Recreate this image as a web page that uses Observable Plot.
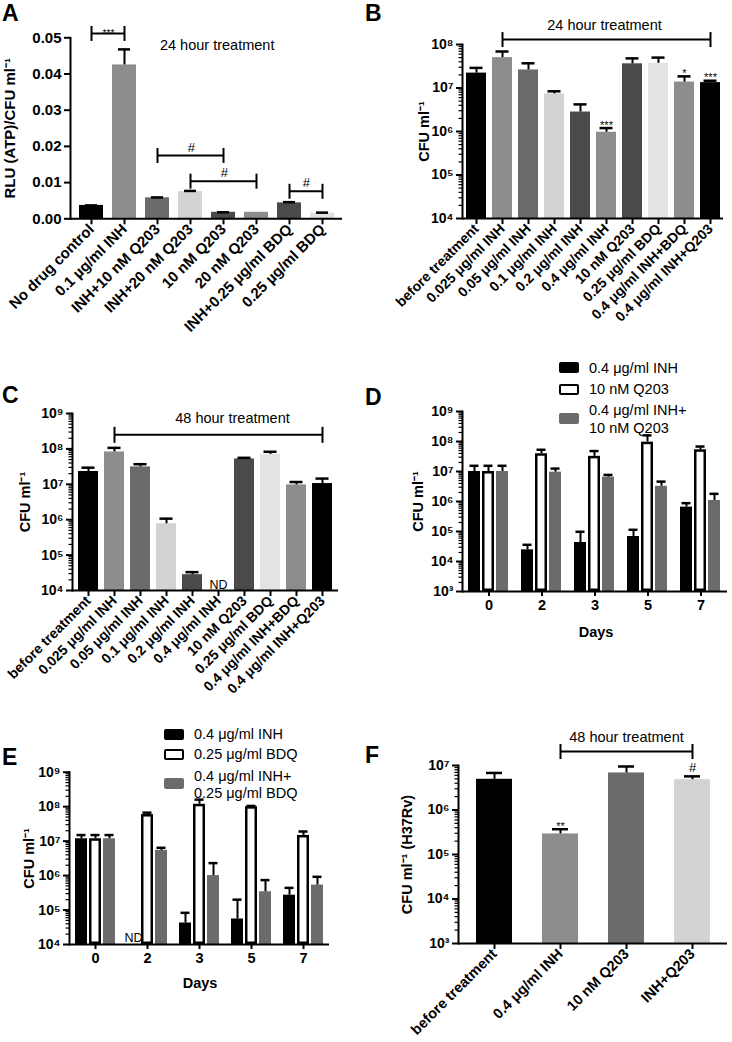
<!DOCTYPE html>
<html>
<head>
<meta charset="utf-8">
<script src="https://cdn.jsdelivr.net/npm/d3@7"></script>
<script src="https://cdn.jsdelivr.net/npm/@observablehq/plot@0.6"></script>
<style>
html,body{margin:0;padding:0;background:#fff;}
#fig{position:relative;width:732px;height:1042px;overflow:hidden;font-family:"Liberation Sans",Arial,Helvetica,sans-serif;color:#000;background:#fff;}
.panel{position:absolute;}
.panel svg{overflow:visible;display:block;}
.abs{position:absolute;white-space:nowrap;}
.letter{font-weight:bold;font-size:23px;line-height:26px;}
.lg{font-size:14.5px;line-height:18px;}
.sw{position:absolute;width:20px;height:11px;border-radius:2px;box-sizing:border-box;}
.xl{font-weight:bold;font-size:14.5px;line-height:18px;transform:translateX(-50%);}
</style>
</head>
<body>
<div id="fig"></div>
<script>
// ---------------- DATA ----------------
// Panel A
const aLabels = ["No drug control", "0.1 µg/ml INH", "INH+10 nM Q203", "INH+20 nM Q203", "10 nM Q203", "20 nM Q203", "INH+0.25 µg/ml BDQ", "0.25 µg/ml BDQ"];
const aValues = [0.0037, 0.0425, 0.0058, 0.0075, 0.0018, 0.0018, 0.0044, 0.0016];
const aErrors = [0.0037, 0.0468, 0.0059, 0.0077, 0.0018, null, 0.0046, 0.0017];
const aTicks = [0, 0.01, 0.02, 0.03, 0.04, 0.05];
const aBrackets = [
  {from: aLabels[0], to: aLabels[1], level: 0.0512, text: "***"},
  {from: aLabels[2], to: aLabels[4], level: 0.0175, text: "#"},
  {from: aLabels[3], to: aLabels[5], level: 0.0104, text: "#"},
  {from: aLabels[6], to: aLabels[7], level: 0.0076, text: "#"}
];
// Panel B
const bLabels = ["before treatment", "0.025 μg/ml INH", "0.05 μg/ml INH", "0.1 μg/ml INH", "0.2 μg/ml INH", "0.4 μg/ml INH", "10 nM Q203", "0.25 μg/ml BDQ", "0.4 μg/ml INH+BDQ", "0.4 μg/ml INH+Q203"];
const bValues = [2.2e7, 5.0e7, 2.6e7, 7.3e6, 2.8e6, 9.6e5, 3.6e7, 3.7e7, 1.37e7, 1.33e7];
const bErrors = [2.9e7, 6.9e7, 3.7e7, 8.4e6, 4.2e6, 1.2e6, 4.8e7, 5.0e7, 1.85e7, 1.47e7];
const bStars = [{name: bLabels[5], text: "***"}, {name: bLabels[8], text: "*"}, {name: bLabels[9], text: "***"}];
const bBracket = [{from: bLabels[1], to: bLabels[9], level: 1.3e8}];
// Panel C
const cLabels = bLabels;
const cValues = [2.3e7, 8.2e7, 3.1e7, 7.7e5, 2.8e4, null, 5.2e7, 7.0e7, 9.6e6, 1.05e7];
const cErrors = [2.95e7, 1.07e8, 3.7e7, 1.07e6, 3.3e4, null, 5.6e7, 8.3e7, 1.16e7, 1.45e7];
const cND = [cLabels[5]];
const cBracket = [{from: cLabels[1], to: cLabels[9], level: 2.5e8}];
// Panel D
const dDays = ["0", "2", "3", "5", "7"];
const dSeries = ["0.4 μg/ml INH", "10 nM Q203", "0.4 μg/ml INH+10 nM Q203"];
const dINH = [1.0e7, 2.45e4, 4.3e4, 6.8e4, 6.5e5];
const dINHerr = [1.55e7, 3.6e4, 9.8e4, 1.14e5, 8.8e5];
const dQ203 = [1.0e7, 3.9e7, 3.2e7, 9.5e7, 5.3e7];
const dQ203err = [1.55e7, 5.3e7, 4.8e7, 1.6e8, 6.8e7];
const dCombo = [1.0e7, 9.5e6, 6.5e6, 3.2e6, 1.08e6];
const dComboErr = [1.55e7, 1.25e7, 7.7e6, 4.6e6, 1.8e6];
const dLegend = [["0.4 μg/ml INH"], ["10 nM Q203"], ["0.4 μg/ml INH+", "10 nM Q203"]];
// Panel E
const eDays = ["0", "2", "3", "5", "7"];
const eSeries = ["0.4 μg/ml INH", "0.25 μg/ml BDQ", "0.4 μg/ml INH+0.25 μg/ml BDQ"];
const eINH = [1.17e7, null, 4.2e4, 5.5e4, 2.7e5];
const eINHerr = [1.5e7, null, 8.3e4, 2.0e5, 4.4e5];
const eBDQ = [1.17e7, 5.9e7, 1.17e8, 1.0e8, 1.46e7];
const eBDQerr = [1.5e7, 6.7e7, 1.6e8, 1.05e8, 1.9e7];
const eCombo = [1.17e7, 5.4e6, 1.0e6, 3.4e5, 5.3e5];
const eComboErr = [1.5e7, 6.4e6, 2.3e6, 7.4e5, 9.2e5];
const eLegend = [["0.4 μg/ml INH"], ["0.25 μg/ml BDQ"], ["0.4 μg/ml INH+", "0.25 μg/ml BDQ"]];
// Panel F
const fLabels = ["before treatment", "0.4 μg/ml INH", "10 nM Q203", "INH+Q203"];
const fValues = [4.9e6, 2.9e5, 6.8e6, 4.8e6];
const fErrors = [6.8e6, 3.7e5, 9.5e6, 5.7e6];
const fStars = [{name: fLabels[1], text: "**"}, {name: fLabels[3], text: "#"}];
const fBracket = [{from: fLabels[1], to: fLabels[3], level: 2.06e7}];

// ---------------- STYLE ----------------
const FONT = '"Liberation Sans", Arial, Helvetica, sans-serif';
const shades10 = ["#000000", "#8d8d8d", "#6b6b6b", "#d3d3d3", "#4a4a4a", "#8d8d8d", "#4a4a4a", "#e3e3e3", "#8d8d8d", "#000000"];
const shadesA = ["#000000", "#8d8d8d", "#6b6b6b", "#d3d3d3", "#4a4a4a", "#8d8d8d", "#4a4a4a", "#e3e3e3"];
const shadesF = ["#000000", "#8d8d8d", "#6b6b6b", "#d3d3d3"];
const groupColors = ["#000000", "#ffffff", "#6b6b6b"];

const SUP = "⁰¹²³⁴⁵⁶⁷⁸⁹";
const pow10 = d => "10" + String(Math.round(Math.log10(d))).split("").map(c => SUP[+c]).join("");
const decades = (lo, hi) => d3.range(lo, hi + 1).map(e => 10 ** e);
const minorTicks = (lo, hi) => { const t = []; for (let e = lo; e < hi; e++) for (let m = 2; m <= 9; m++) t.push(m * 10 ** e); return t; };
const vBar = {draw(ctx, size) { const r = Math.sqrt(size / Math.PI); ctx.moveTo(0, -r); ctx.lineTo(0, r); }};

const fig = document.getElementById("fig");
function place(node, left, top) {
  const d = document.createElement("div");
  d.className = "panel"; d.style.left = left + "px"; d.style.top = top + "px";
  d.appendChild(node); fig.appendChild(d);
}
function addText(text, left, top, cls) {
  const d = document.createElement("div");
  d.className = "abs " + cls; d.style.left = left + "px"; d.style.top = top + "px";
  d.textContent = text; fig.appendChild(d);
}
function addLegend(items, swLeft, txtLeft, swCenters, lineCenters) {
  let k = 0;
  items.forEach((lines, i) => {
    const s = document.createElement("div");
    s.className = "sw";
    s.style.left = swLeft + "px"; s.style.top = (swCenters[i] - 5.5) + "px";
    s.style.background = groupColors[i];
    if (i === 1) s.style.border = "2.5px solid #000";
    fig.appendChild(s);
    lines.forEach(t => { addText(t, txtLeft, lineCenters[k++] - 9, "lg"); });
  });
}

function yAxisMarks(o) {
  const m = [];
  if (o.minor) m.push(Plot.axisY({ticks: o.minor, tickSize: 3.5, strokeWidth: 1.2, fill: "none", label: null}));
  m.push(Plot.axisY({ticks: o.ticks, tickSize: 6, strokeWidth: 2, tickFormat: o.format, fontSize: o.yFont, fontWeight: "bold", tickPadding: 3, label: null}));
  m.push(Plot.frame({anchor: "left", stroke: "#000", strokeWidth: 2, facetAnchor: "left"}));
  m.push(Plot.text([o.yLabel], {text: d => d, frameAnchor: "left", rotate: -90, dx: -o.yLabelOffset, textAnchor: "middle", lineAnchor: "top", fontWeight: "bold", fontSize: o.yLabelFont, fill: "#000", facetAnchor: "left"}));
  return m;
}

function barsPanel(o) {
  const rows = o.labels.map((name, i) => ({name, value: o.values[i], err: o.errors[i]}));
  const base = o.yDomain[0];
  const [mt, mr, mb, ml] = o.margin;
  const W = o.width - ml - mr;
  const step = W / (o.labels.length - o.pi + 2 * o.po);
  const idx = name => o.labels.indexOf(name);
  const has = rows.filter(d => d.value != null);
  const er = has.filter(d => d.err != null);
  const marks = [
    Plot.barY(has, {x: "name", y1: () => base, y2: "value", fill: "name"}),
    Plot.ruleX(er, {x: "name", y1: "value", y2: "err", stroke: "#000", strokeWidth: 2}),
    Plot.tickY(er, {x: "name", y: "err", stroke: "#000", strokeWidth: 2.5, insetLeft: o.capInset, insetRight: o.capInset}),
    Plot.ruleY([base], {stroke: "#000", strokeWidth: 2}),
    ...yAxisMarks(o),
    Plot.axisX({tickRotate: -45, tickSize: 6, strokeWidth: 2, fontSize: o.xFont, fontWeight: "bold", tickPadding: 2, label: null})
  ];
  for (const b of o.brackets || []) {
    marks.push(Plot.link([b], {x1: "from", x2: "to", y1: "level", y2: "level", stroke: "#000", strokeWidth: 2}));
    marks.push(Plot.dot([{name: b.from, level: b.level}, {name: b.to, level: b.level}], {x: "name", y: "level", symbol: vBar, r: o.hook, stroke: "#000", strokeWidth: 2, fill: "none"}));
    if (b.text) {
      const star = b.text.startsWith("*");
      marks.push(Plot.text([b], {x: "from", y: "level", text: "text", dx: (idx(b.to) - idx(b.from)) * step / 2, dy: star ? 0 : -8, fontSize: star ? 10 : 13, fill: "#000", lineAnchor: "middle"}));
    }
  }
  for (const s of o.stars || []) {
    const star = s.text.startsWith("*");
    marks.push(Plot.text([s], {x: "name", y: d => rows[idx(d.name)].err, text: "text", dy: star ? -3 : -8.5, fontSize: star ? 11 : 13, fill: "#000", lineAnchor: "middle"}));
  }
  if (o.title) marks.push(Plot.text([o.title], {text: d => d, frameAnchor: "top", dx: o.titleDx, dy: o.titleDy, fontSize: 14.5, fill: "#000", lineAnchor: "middle"}));
  if (o.nd) marks.push(Plot.text(o.nd, {x: d => d, y: () => base, text: () => "ND", dy: -5.5, fontSize: 12.5, fill: "#000", lineAnchor: "middle"}));
  return Plot.plot({
    width: o.width, height: o.height,
    marginTop: mt, marginRight: mr, marginBottom: mb, marginLeft: ml,
    x: {domain: o.labels, paddingInner: o.pi, paddingOuter: o.po},
    y: {type: o.yType, domain: o.yDomain},
    color: {domain: o.labels, range: o.colors},
    style: {fontFamily: FONT, overflow: "visible", background: "transparent", color: "#000"},
    marks
  });
}

function groupedPanel(o) {
  const rows = [];
  o.series.forEach((s, j) => o.days.forEach((day, i) => rows.push({day, series: s, value: o.values[j][i], err: o.errors[j][i]})));
  const base = o.yDomain[0];
  const [mt, mr, mb, ml] = o.margin;
  const has = rows.filter(d => d.value != null);
  const filled = has.filter(d => d.series !== o.series[1]);
  const open = has.filter(d => d.series === o.series[1]);
  const er = has.filter(d => d.err != null);
  const marks = [
    Plot.barY(filled, {fx: "day", x: "series", y1: () => base, y2: "value", fill: "series"}),
    Plot.barY(open, {fx: "day", x: "series", y1: () => base, y2: "value", fill: "#fff", stroke: "#000", strokeWidth: 2.5, inset: 1.25}),
    Plot.ruleX(er, {fx: "day", x: "series", y1: "value", y2: "err", stroke: "#000", strokeWidth: 2}),
    Plot.tickY(er, {fx: "day", x: "series", y: "err", stroke: "#000", strokeWidth: 2.5, insetLeft: 1.5, insetRight: 1.5}),
    Plot.ruleY([base], {stroke: "#000", strokeWidth: 2}),
    ...yAxisMarks(o),
    Plot.axisFx({anchor: "bottom", tickSize: 5, strokeWidth: 2, fontSize: 14.5, fontWeight: "bold", tickPadding: 3, label: null})
  ];
  if (o.nd) marks.push(Plot.text([o.nd], {fx: "day", x: "series", y: () => base, text: () => "ND", dy: -7, fontSize: 12.5, fill: "#000", lineAnchor: "middle"}));
  return Plot.plot({
    width: o.width, height: o.height,
    marginTop: mt, marginRight: mr, marginBottom: mb, marginLeft: ml,
    fx: {domain: o.days, padding: 0},
    x: {domain: o.series, axis: null, paddingInner: o.pi, paddingOuter: o.po},
    y: {type: "log", domain: o.yDomain},
    color: {domain: o.series, range: groupColors},
    style: {fontFamily: FONT, overflow: "visible", background: "transparent", color: "#000"},
    marks
  });
}

// ---------------- PANELS ----------------
place(barsPanel({
  labels: aLabels, values: aValues, errors: aErrors, colors: shadesA,
  width: 366, height: 330, margin: [37.3, 24, 111.7, 70], pi: 0.28, po: 0.15, capInset: 6,
  yType: "linear", yDomain: [0, 0.05], ticks: aTicks, format: d => d.toFixed(2), yFont: 15,
  yLabel: "RLU (ATP)/CFU ml⁻¹", yLabelOffset: 66, yLabelFont: 15, xFont: 15,
  brackets: aBrackets, hook: 7.5, title: "24 hour treatment", titleDx: 10.7, titleDy: 7.7
}), 0, 0);

place(barsPanel({
  labels: bLabels, values: bValues, errors: bErrors, colors: shades10,
  width: 366, height: 330, margin: [44, 9, 112, 96], pi: 0.24, po: 0.075, capInset: 3.5,
  yType: "log", yDomain: [1e4, 1e8], ticks: decades(4, 8), minor: minorTicks(4, 8), format: pow10, yFont: 14,
  yLabel: "CFU ml⁻¹", yLabelOffset: 44, yLabelFont: 14.5, xFont: 14,
  brackets: bBracket, hook: 7.5, stars: bStars, title: "24 hour treatment", titleDx: 11.5, titleDy: -19
}), 366, 0);

place(barsPanel({
  labels: cLabels, values: cValues, errors: cErrors, colors: shades10,
  width: 366, height: 300, margin: [83, 28, 40, 72], pi: 0.24, po: 0.185, capInset: 3.5,
  yType: "log", yDomain: [1e4, 1e9], ticks: decades(4, 9), minor: minorTicks(4, 9), format: pow10, yFont: 14,
  yLabel: "CFU ml⁻¹", yLabelOffset: 53, yLabelFont: 14.5, xFont: 14,
  brackets: cBracket, hook: 8, nd: cND, title: "48 hour treatment", titleDx: 27, titleDy: 5
}), 0, 330);

place(groupedPanel({
  days: dDays, series: dSeries, values: [dINH, dQ203, dCombo], errors: [dINHerr, dQ203err, dComboErr],
  width: 366, height: 300, margin: [81, 3, 39, 94], pi: 0.13, po: 0.36,
  yDomain: [1e3, 1e9], ticks: decades(3, 9), minor: minorTicks(3, 9), format: pow10, yFont: 14,
  yLabel: "CFU ml⁻¹", yLabelOffset: 50, yLabelFont: 14.5
}), 366, 330);

place(groupedPanel({
  days: eDays, series: eSeries, values: [eINH, eBDQ, eCombo], errors: [eINHerr, eBDQerr, eComboErr],
  width: 366, height: 412, margin: [141.7, 36, 98, 68], pi: 0.17, po: 0.39,
  yDomain: [1e4, 1e9], ticks: decades(4, 9), minor: minorTicks(4, 9), format: pow10, yFont: 14,
  yLabel: "CFU ml⁻¹", yLabelOffset: 46, yLabelFont: 14.5, nd: {day: eDays[1], series: eSeries[0]}
}), 0, 630);

place(barsPanel({
  labels: fLabels, values: fValues, errors: fErrors, colors: shadesF,
  width: 366, height: 412, margin: [135, 5, 99, 92], pi: 0.46, po: 0.24, capInset: 10,
  yType: "log", yDomain: [1e3, 1e7], ticks: decades(3, 7), minor: minorTicks(3, 7), format: pow10, yFont: 14,
  yLabel: "CFU ml⁻¹ (H37Rv)", yLabelOffset: 57, yLabelFont: 14.5, xFont: 14.5,
  brackets: fBracket, hook: 7.5, stars: fStars, title: "48 hour treatment", titleDx: 33.5, titleDy: -28
}), 366, 630);

// legends, axis titles, panel letters
addLegend(dLegend, 559, 589, [367.5, 389, 418], [367.7, 389, 410, 428]);
addLegend(eLegend, 164, 194, [734, 754, 783], [734, 754, 776, 793]);
addText("Days", 596, 623, "xl");
addText("Days", 200, 974, "xl");
[["A", 2, 0], ["B", 365, 0], ["C", 2, 382], ["D", 365, 384], ["E", 2, 744], ["F", 365, 742]]
  .forEach(([t, x, y]) => addText(t, x, y, "letter"));
</script>
</body>
</html>
